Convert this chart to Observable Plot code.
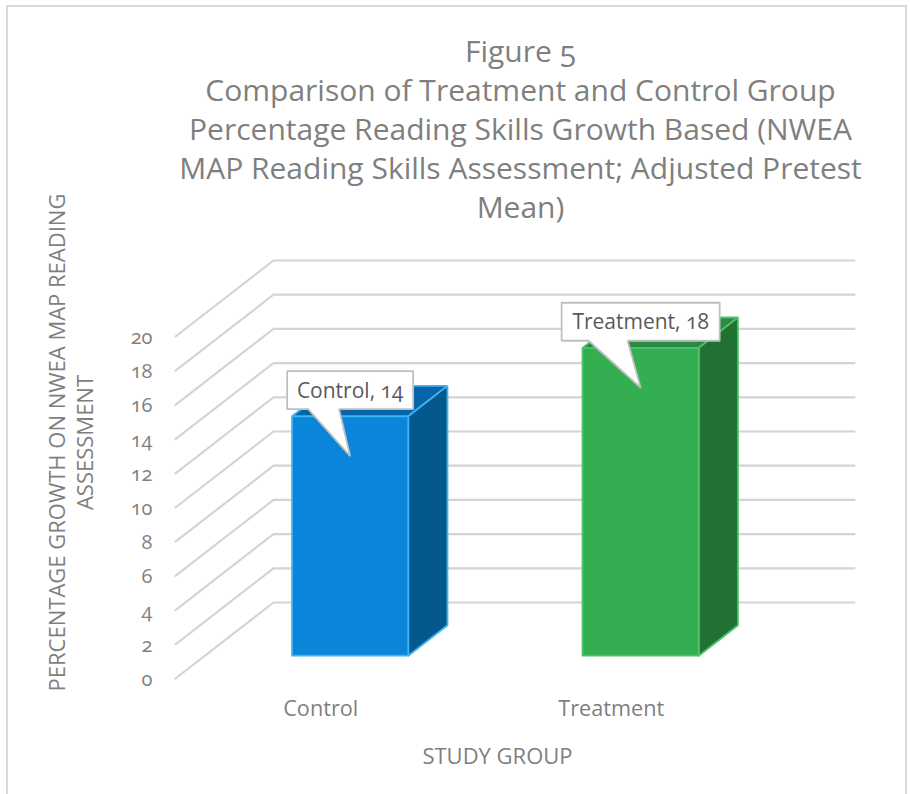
<!DOCTYPE html>
<html><head><meta charset="utf-8">
<script src="https://cdn.jsdelivr.net/npm/d3@7"></script>
<script src="https://cdn.jsdelivr.net/npm/@observablehq/plot@0.6"></script>
<style>
html,body{margin:0;padding:0;background:#fff;overflow:hidden;width:910px;height:794px}
#chart{position:relative;width:910px;height:794px;overflow:hidden}
#border{position:absolute;left:6px;top:5px;width:901px;height:820px;border:2px solid #d9d9d9;box-sizing:border-box;pointer-events:none}
svg{display:block;font-variant-numeric:oldstyle-nums;font-feature-settings:"onum"}
</style></head><body>
<div id="chart"><div id="border"></div></div>
<script>
const categories = ["Control", "Treatment"];
const values = [14, 18];
const yTicks = [0, 2, 4, 6, 8, 10, 12, 14, 16, 18, 20];
const faceColors = ["#0B85D9", "#33AF52"];
const topColors = ["#0665A8", "#2A8B42"];
const sideColors = ["#05588B", "#217232"];
const edgeColors = ["#3FB4F2", "#4EC26B"];
const calloutHalfWidths = [63, 79];
const calloutTailLeft = [42, 52];
const calloutTailRight = [11, 13];
const titleText = "Figure 5\nComparison of Treatment and Control Group\nPercentage Reading Skills Growth Based (NWEA\nMAP Reading Skills Assessment; Adjusted Pretest\nMean)";
const yTitle = "PERCENTAGE GROWTH ON NWEA MAP READING\nASSESSMENT";
const xTitle = "STUDY GROUP";

const font = "'Open Sans', sans-serif";
const depthX = 98 / 290.5, depthY = 76 / 17.1;
const xPx = 2 / 581, yPx = 20 / 342;
const project = (c, v, d) => ({x: c + d * depthX, y: v + d * depthY});
const poly = (pts, fill, stroke, w) => Plot.line([...pts, pts[0], pts[1]], {x: "x", y: "y", fill, stroke, strokeWidth: w, strokeLinejoin: "miter"});

const marks = [];
// walls' gridlines
for (const v of yTicks) {
  marks.push(Plot.line([project(0, v, 0), project(0, v, 1), project(2, v, 1)], {x: "x", y: "y", stroke: "#d4d4d4", strokeWidth: 2.2, strokeLinecap: "round", strokeLinejoin: "round"}));
}
// bars
categories.forEach((c, i) => {
  const v = values[i], a = i + 0.3, b = i + 0.7, d0 = 0.3, d1 = 0.7;
  const edge = edgeColors[i];
  marks.push(poly([project(a, v, d0), project(b, v, d0), project(b, v, d1), project(a, v, d1)], topColors[i], edge, 1.8));
  marks.push(poly([project(b, 0, d0), project(b, 0, d1), project(b, v, d1), project(b, v, d0)], sideColors[i], edge, 1.8));
  marks.push(poly([project(a, 0, d0), project(b, 0, d0), project(b, v, d0), project(a, v, d0)], faceColors[i], edge, 1.8));
});
// callouts
categories.forEach((c, i) => {
  const v = values[i], tip = project(i + 0.5, v - 2.33, 0.3);
  const at = (px, py) => ({x: tip.x + px * xPx, y: tip.y + py * yPx});
  const h = calloutHalfWidths[i];
  const pts = [at(-h, 85), at(h, 85), at(h, 47), at(-calloutTailRight[i], 47), at(0, 0), at(-calloutTailLeft[i], 47), at(-h, 47)];
  marks.push(poly(pts, "#ffffff", "#bfbfbf", 1.8));
  const ctr = at(0, 65);
  marks.push(Plot.text([`${c}, ${v}`], {x: ctr.x, y: ctr.y, text: d => d, fontSize: 21, fill: "#595959", fontFamily: font}));
});
// axes
marks.push(Plot.axisY(yTicks, {anchor: "left", tickSize: 0, tickPadding: 23, dy: 1, label: null, fontSize: 20, color: "#7f7f7f", fontFamily: font}));
marks.push(Plot.axisX([0.5, 1.5], {anchor: "bottom", tickSize: 0, tickPadding: 22, label: null, tickFormat: d => categories[Math.floor(d)], fontSize: 21.7, color: "#7f7f7f", fontFamily: font}));
// titles
marks.push(Plot.text([titleText], {frameAnchor: "top", dx: 54.5, dy: -302, text: d => d, lineAnchor: "top", textAnchor: "middle", fontSize: 30, lineHeight: 39 / 30, fill: "#7f7f7f", fontFamily: font}));
marks.push(Plot.text([yTitle], {frameAnchor: "left", dx: -105.5, dy: -65, text: d => d, rotate: -90, textAnchor: "middle", fontSize: 22, lineHeight: 28 / 22, fill: "#7f7f7f", fontFamily: font}));
marks.push(Plot.text([xTitle], {frameAnchor: "bottom", dx: 31.5, dy: 85, text: d => d, textAnchor: "middle", fontSize: 22, fill: "#7f7f7f", fontFamily: font}));

const svg = Plot.plot({
  width: 910, height: 794,
  marginLeft: 175, marginRight: 154, marginTop: 336, marginBottom: 116,
  style: {background: "transparent", overflow: "visible", fontFamily: font},
  x: {domain: [0, 2], axis: null},
  y: {domain: [0, 20], axis: null},
  marks
});
document.getElementById("chart").appendChild(svg);
</script>
</body></html>
